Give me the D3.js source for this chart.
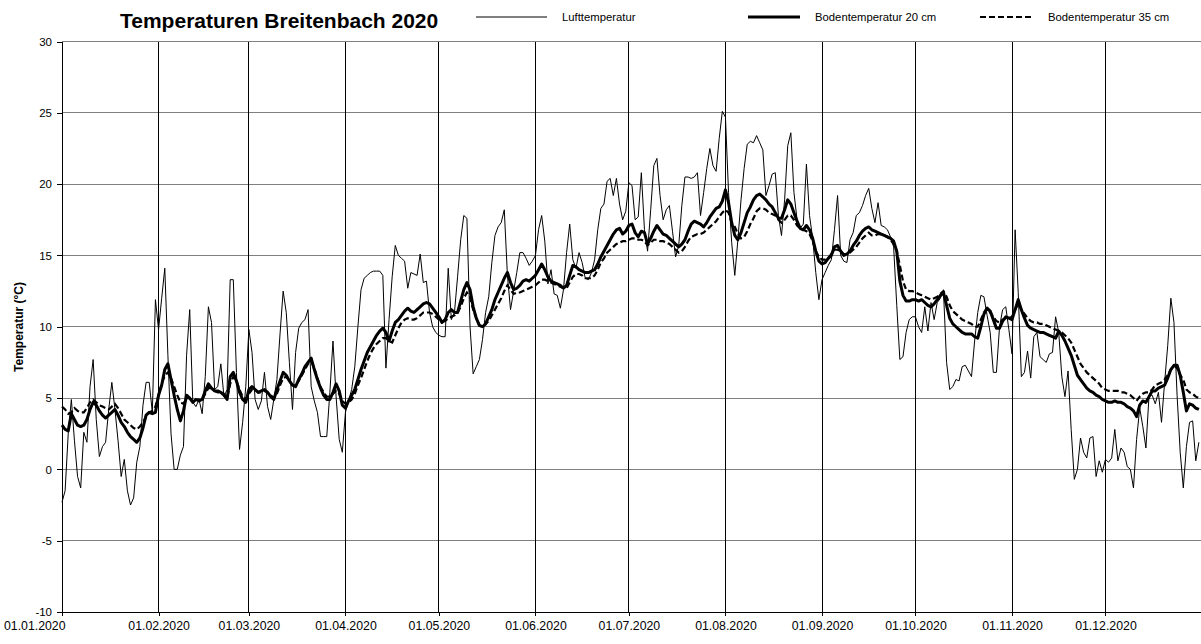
<!DOCTYPE html>
<html><head><meta charset="utf-8">
<script src="https://cdn.jsdelivr.net/npm/d3@7"></script>
<style>body{margin:0;background:#fff;} svg{display:block;font-family:"Liberation Sans",Arial,sans-serif;}</style>
</head><body><svg id="c" width="1201" height="644"></svg>
<script>
const monthStarts = [0,31,60,91,121,152,182,213,244,274,305,335];
const monthLabels = ["01.01.2020","01.02.2020","01.03.2020","01.04.2020","01.05.2020","01.06.2020","01.07.2020","01.08.2020","01.09.2020","01.10.2020","01.11.2020","01.12.2020"];
const yTicks = [-10,-5,0,5,10,15,20,25,30];
const seriesNames = ["Lufttemperatur","Bodentemperatur 20 cm","Bodentemperatur 35 cm"];

const airTemp = [
-2.3,-1.5,2.5,4.9,2.0,-0.5,-1.3,2.6,1.9,5.8,
7.7,3.5,0.9,1.6,1.9,4.2,6.1,4.2,2.0,-0.5,
0.7,-1.5,-2.5,-2.0,0.5,1.6,4.5,6.1,6.1,4.0,
11.9,9.8,12.0,14.1,8.0,2.5,0.0,0.0,1.0,1.6,
8.0,11.2,4.7,4.4,4.9,3.9,6.5,11.4,10.3,5.6,
5.8,7.4,5.1,5.6,13.3,13.3,6.8,1.4,3.3,5.8,
9.8,8.2,4.9,4.2,4.8,6.8,4.4,3.5,4.9,6.3,
9.5,12.5,11.0,7.5,4.2,8.2,9.9,10.3,10.5,11.2,
5.8,4.8,4.0,2.3,2.3,2.3,5.4,9.0,5.1,2.1,
1.2,4.0,4.8,5.6,7.2,10.0,12.6,13.4,13.6,13.8,
13.9,13.9,13.9,13.6,7.1,10.5,13.5,15.7,15.0,14.8,
14.6,12.7,13.8,13.7,13.6,15.1,13.1,13.2,11.0,10.0,
9.6,9.4,9.3,9.3,14.1,10.5,11.0,13.5,16.1,17.8,
17.6,10.0,6.7,7.2,7.7,9.1,11.0,12.1,14.5,16.4,
17.0,17.3,18.2,13.6,11.2,12.5,13.8,15.2,15.2,14.8,
14.3,14.6,15.0,16.8,17.8,16.0,13.0,14.0,12.3,12.2,
11.3,12.6,15.2,17.2,14.7,14.1,15.2,14.5,13.4,13.3,
13.8,14.7,16.8,18.3,18.6,20.2,20.4,19.2,20.4,18.6,
17.5,18.1,20.1,19.9,17.5,17.7,20.8,16.8,15.3,18.2,
21.3,21.8,19.2,17.5,18.2,18.5,16.7,14.9,15.7,18.5,
20.5,20.5,20.4,20.5,20.8,17.8,19.4,21.1,22.5,21.3,
20.9,23.2,25.1,24.7,19.4,15.9,13.6,16.1,18.9,21.1,
22.8,23.0,22.9,23.4,22.9,22.4,19.2,19.9,20.7,20.8,
17.8,16.4,18.9,22.7,23.6,19.4,17.5,16.9,17.2,21.4,
17.8,16.2,13.8,11.9,13.3,13.8,14.3,14.7,16.8,19.2,
15.0,14.6,14.5,16.1,16.6,17.8,18.0,18.5,19.2,19.7,
18.3,17.3,18.7,17.1,17.0,16.8,16.3,15.6,11.5,7.7,
7.9,9.6,10.5,10.7,10.7,10.0,9.6,11.4,9.7,11.7,
10.5,11.7,12.0,12.5,7.5,5.6,5.8,6.3,6.2,7.2,
7.3,6.9,6.5,9.0,11.0,12.2,12.1,10.8,9.6,6.8,
6.8,10.0,11.2,11.4,9.8,8.1,16.8,12.4,6.5,6.8,
8.3,6.4,9.3,9.6,7.9,7.7,7.5,8.1,8.2,10.7,
9.6,6.5,5.1,6.9,2.8,-0.7,0.0,2.2,1.2,0.8,
2.2,2.3,-0.5,0.6,-0.2,0.7,0.5,0.8,2.8,0.6,
1.5,1.2,0.2,0.0,-1.3,2.1,4.3,3.0,1.5,5.2,
5.2,4.6,5.4,3.3,6.1,8.7,12.0,10.3,5.2,1.2,
-1.3,1.6,3.3,3.4,0.6,1.9];

const soil20 = [
3.1,2.8,2.7,3.9,3.5,3.1,3.0,3.1,3.5,4.2,
4.7,4.5,4.1,3.8,3.6,3.8,4.0,4.2,3.8,3.3,
3.0,2.6,2.3,2.1,1.9,2.2,2.9,3.8,4.0,3.9,
4.0,5.2,5.9,7.0,7.4,6.3,5.2,4.2,3.4,4.1,
5.2,5.0,4.7,4.9,4.8,4.9,5.5,6.0,5.7,5.5,
5.5,5.4,5.2,4.9,6.5,6.8,6.2,5.4,4.9,4.7,
5.6,5.8,5.6,5.4,5.5,5.6,5.4,5.1,4.9,5.6,
6.2,6.8,6.6,6.2,5.9,5.8,6.3,6.7,7.2,7.5,
7.8,7.0,6.3,5.7,5.2,4.9,4.9,5.4,6.0,5.5,
4.5,4.3,4.8,5.2,5.6,6.3,7.0,7.6,8.2,8.6,
9.0,9.4,9.7,9.9,9.6,9.0,9.7,10.3,10.5,10.8,
11.1,11.3,11.1,11.0,11.2,11.4,11.6,11.7,11.6,11.3,
11.0,10.7,10.3,10.5,11.0,11.2,11.0,11.0,11.8,12.6,
13.1,12.6,11.4,10.6,10.1,10.0,10.2,10.7,11.2,11.9,
12.4,12.9,13.4,13.8,13.1,12.6,12.7,12.9,13.2,13.3,
13.2,13.4,13.6,14.0,14.4,14.0,13.5,13.2,13.1,13.0,
12.9,12.7,12.9,13.6,14.3,14.2,14.0,13.9,13.8,13.8,
13.9,14.0,14.4,14.9,15.3,15.7,16.1,16.5,16.8,16.9,
16.5,16.7,17.1,17.2,16.6,16.3,16.7,16.6,15.8,16.2,
16.7,17.1,16.8,16.5,16.4,16.2,16.0,15.8,15.6,15.8,
16.1,16.7,17.2,17.4,17.3,17.2,17.0,17.3,17.7,18.0,
18.3,18.4,18.8,19.6,18.7,17.3,16.4,16.1,16.6,17.3,
18.0,18.4,18.9,19.2,19.3,19.1,18.9,18.6,18.4,18.0,
17.6,17.6,18.2,18.9,18.6,18.0,17.4,16.9,16.8,17.1,
16.8,16.2,15.3,14.6,14.4,14.5,14.8,15.0,15.6,15.7,
15.3,15.0,15.1,15.3,15.7,16.0,16.4,16.7,16.9,17.0,
16.8,16.7,16.6,16.5,16.4,16.3,16.2,16.0,15.3,13.2,
12.2,11.8,11.8,11.9,11.9,11.8,11.9,11.7,11.5,11.4,
11.6,11.9,12.2,12.4,11.5,10.6,10.2,10.0,9.8,9.6,
9.5,9.5,9.5,9.3,9.2,10.0,10.9,11.3,11.1,10.5,
9.9,9.9,10.4,10.7,10.6,10.5,11.2,11.9,11.2,10.6,
10.1,9.9,9.8,9.7,9.6,9.6,9.5,9.4,9.3,9.2,
9.7,9.4,9.0,8.5,8.0,7.3,6.6,6.3,6.0,5.7,
5.5,5.4,5.2,5.1,4.9,4.8,4.7,4.7,4.8,4.7,
4.7,4.6,4.4,4.3,4.1,3.7,4.5,4.8,4.7,5.1,
5.5,5.5,5.7,5.8,5.9,6.4,7.0,7.3,7.3,6.6,
5.4,4.1,4.6,4.5,4.3,4.2];

const soil35 = [
4.4,4.2,3.9,4.0,4.3,4.1,4.0,4.0,4.3,4.7,
4.9,4.7,4.5,4.4,4.3,4.2,4.4,4.6,4.3,3.9,
3.5,3.3,3.1,2.9,2.8,3.0,3.3,3.7,4.0,4.1,
4.4,5.2,6.0,6.6,6.8,6.4,5.8,5.2,4.7,4.6,
5.0,5.0,4.8,4.9,4.9,4.9,5.3,5.7,5.7,5.5,
5.4,5.4,5.3,5.0,6.0,6.5,6.2,5.6,5.1,4.9,
5.3,5.6,5.6,5.4,5.4,5.5,5.4,5.2,5.0,5.3,
5.9,6.4,6.5,6.2,5.9,5.9,6.2,6.6,7.0,7.4,
7.6,7.1,6.4,5.8,5.4,5.1,5.1,5.3,5.5,5.3,
4.8,4.6,4.7,4.9,5.3,5.9,6.4,7.0,7.6,8.1,
8.5,8.8,9.0,9.2,9.2,9.0,8.9,9.4,9.9,10.3,
10.5,10.6,10.5,10.5,10.6,10.8,11.0,11.0,11.0,10.9,
10.7,10.5,10.4,10.4,10.6,10.7,10.8,11.0,11.4,12.0,
12.4,12.1,11.2,10.6,10.1,10.0,10.2,10.4,10.8,11.2,
11.6,12.0,12.5,12.9,12.6,12.3,12.4,12.4,12.5,12.6,
12.7,12.8,12.9,13.1,13.3,13.3,13.2,13.1,13.0,12.9,
12.8,12.7,12.7,13.1,13.5,13.7,13.7,13.6,13.4,13.4,
13.4,13.6,14.0,14.5,14.8,15.2,15.4,15.6,15.8,15.9,
16.0,16.0,16.1,16.2,16.2,16.1,16.1,16.0,15.7,15.9,
16.1,16.1,16.0,16.0,15.9,15.8,15.6,15.4,15.2,15.3,
15.6,16.0,16.3,16.4,16.5,16.5,16.6,16.8,17.0,17.2,
17.4,17.7,18.0,18.2,18.0,17.3,17.0,16.5,16.2,16.3,
16.7,17.2,17.6,18.1,18.3,18.3,18.2,18.0,17.9,17.8,
17.5,17.3,17.5,17.8,17.8,17.5,17.1,16.9,16.8,16.7,
16.5,16.0,15.3,14.9,14.7,14.7,14.8,15.1,15.4,15.4,
15.3,15.1,15.1,15.2,15.4,15.6,15.9,16.2,16.4,16.6,
16.4,16.4,16.5,16.5,16.4,16.3,16.1,15.8,15.3,14.3,
13.2,12.6,12.5,12.5,12.4,12.3,12.2,12.1,12.0,11.9,
12.0,12.1,12.3,12.5,12.1,11.5,11.1,10.9,10.7,10.5,
10.4,10.3,10.2,10.0,10.0,10.5,11.0,11.3,11.0,10.7,
10.4,10.3,10.5,10.6,10.6,10.7,11.2,11.6,11.2,10.9,
10.6,10.4,10.3,10.3,10.2,10.2,10.1,10.0,9.9,9.8,
9.7,9.6,9.4,9.2,8.9,8.4,7.9,7.4,7.1,6.8,
6.6,6.4,6.2,6.0,5.7,5.6,5.5,5.5,5.5,5.5,
5.4,5.4,5.3,5.2,5.0,4.8,5.1,5.3,5.4,5.4,
5.6,5.9,6.0,6.1,6.3,6.6,7.0,7.3,7.1,6.6,
6.3,5.6,5.4,5.3,5.1,5.0];

const W = 1201, H = 644;
const FONT = "Liberation Sans, Arial, sans-serif";
const svg = d3.select("#c");
const x = d3.scaleLinear().domain([0, 366]).range([62, 1202]);
const y = d3.scaleLinear().domain([-10, 30]).range([612, 41.5]);

// horizontal gridlines
svg.append("g").selectAll("line").data(yTicks.filter(t => t > -10)).join("line")
  .attr("x1", x(0)).attr("x2", W).attr("y1", d => y(d)).attr("y2", d => y(d))
  .attr("stroke", "#808080").attr("stroke-width", 1).attr("shape-rendering", "crispEdges");
// vertical gridlines
svg.append("g").selectAll("line").data(monthStarts.filter(m => m > 0)).join("line")
  .attr("x1", d => x(d)).attr("x2", d => x(d)).attr("y1", y(30)).attr("y2", y(-10))
  .attr("stroke", "#000").attr("stroke-width", 1).attr("shape-rendering", "crispEdges");

// axes
const yAxis = svg.append("g").attr("transform", `translate(${x(0)},0)`)
  .call(d3.axisLeft(y).tickValues(yTicks).tickSize(5).tickPadding(5).tickFormat(d => String(d)));
yAxis.selectAll("text").attr("font-size", 11.5).attr("fill", "#000").attr("font-family", FONT);
yAxis.selectAll("line,path").attr("stroke", "#000").attr("shape-rendering", "crispEdges");

const xAxis = svg.append("g").attr("transform", `translate(0,${y(-10)})`)
  .call(d3.axisBottom(x).tickValues(monthStarts).tickSize(4).tickPadding(5).tickFormat((d, i) => monthLabels[i]));
xAxis.select(".domain").attr("d", `M${x(0)},0.5H${W}`);
xAxis.selectAll("text").attr("font-size", 12.3).attr("fill", "#000").attr("font-family", FONT);
xAxis.selectAll("line,path").attr("stroke", "#000").attr("shape-rendering", "crispEdges");
xAxis.selectAll(".tick").filter((d, i) => i === 0).select("text").attr("text-anchor", "end").attr("x", 3);

// lines
const line = d3.line().x((d, i) => x(i)).y(d => y(d));
const plot = svg.append("g");
plot.append("path").datum(airTemp).attr("d", line).attr("fill", "none").attr("stroke", "#000").attr("stroke-width", 1);
plot.append("path").datum(soil35).attr("d", line).attr("fill", "none").attr("stroke", "#000").attr("stroke-width", 2.2).attr("stroke-dasharray", "6,3");
plot.append("path").datum(soil20).attr("d", line).attr("fill", "none").attr("stroke", "#000").attr("stroke-width", 3).attr("stroke-linejoin", "round");

// title
svg.append("text").attr("x", 120).attr("y", 28).attr("font-size", 21).attr("font-weight", "bold").attr("font-family", FONT).text("Temperaturen Breitenbach 2020");

// y axis title
svg.append("text").attr("transform", "translate(23,327) rotate(-90)").attr("text-anchor", "middle")
  .attr("font-size", 12).attr("font-weight", "bold").attr("font-family", FONT).text("Temperatur (°C)");

// legend
const legendItems = [
  {name: seriesNames[0], x1: 476, x2: 547, tx: 562, w: 1, dash: null},
  {name: seriesNames[1], x1: 748, x2: 800, tx: 815, w: 3, dash: null},
  {name: seriesNames[2], x1: 980, x2: 1034, tx: 1048, w: 2.2, dash: "6,3"}
];
const lg = svg.append("g").selectAll("g").data(legendItems).join("g");
lg.append("line").attr("x1", d => d.x1).attr("x2", d => d.x2).attr("y1", 17).attr("y2", 17)
  .attr("stroke", "#000").attr("stroke-width", d => d.w).attr("stroke-dasharray", d => d.dash);
lg.append("text").attr("x", d => d.tx).attr("y", 21).attr("font-size", 11.3).attr("font-family", FONT).text(d => d.name);
</script></body></html>
